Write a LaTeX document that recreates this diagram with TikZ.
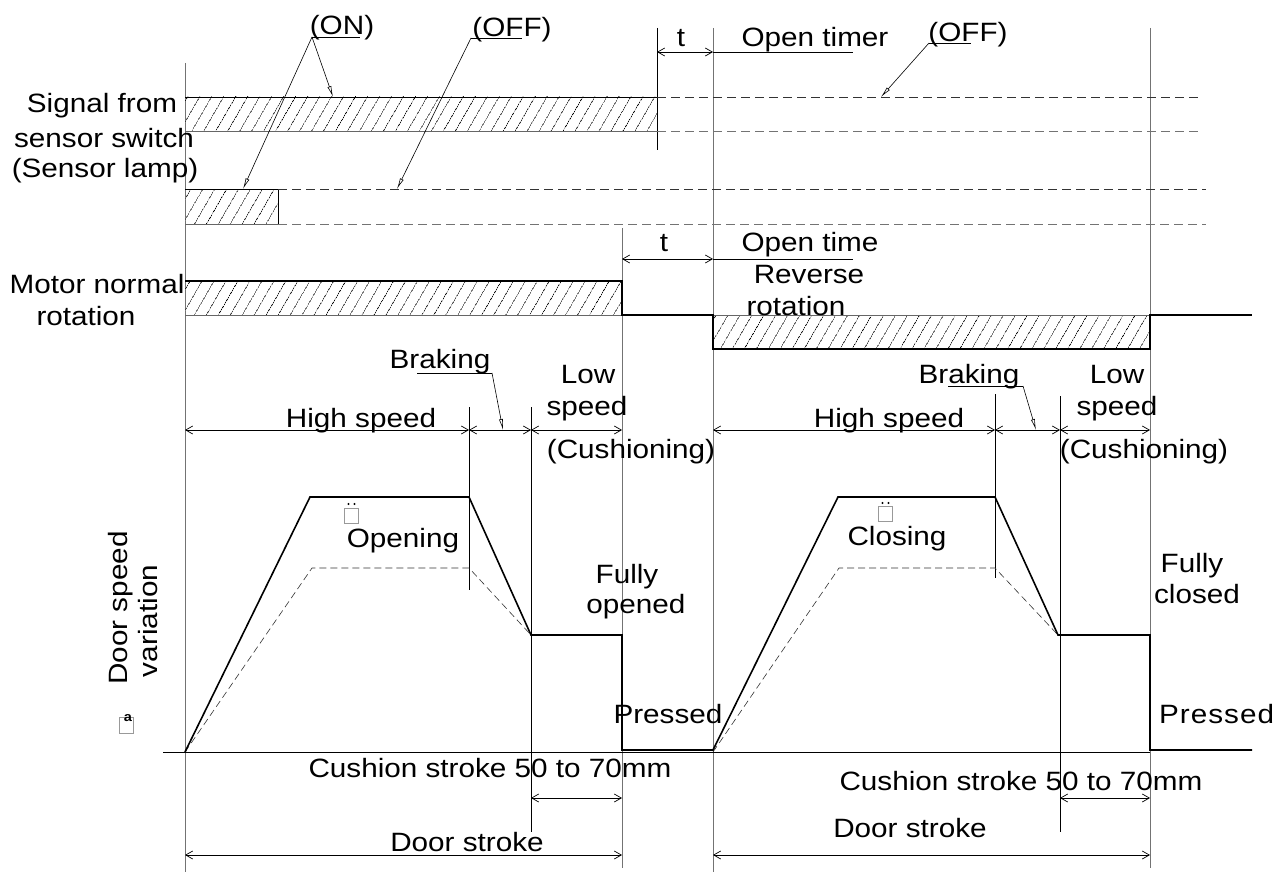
\documentclass[tikz,border=0pt]{standalone}
\usepackage{fontspec}
\setmainfont[FakeStretch=1.12]{Liberation Sans}
\usetikzlibrary{arrows.meta, patterns.meta}

\begin{document}
\begin{tikzpicture}[x=1pt, y=-1pt,
    lbl/.style={font=\fontsize{26.5}{30}\selectfont, inner sep=0pt, anchor=base},
    guide/.style={draw=black!55, line width=1pt},
    tick/.style={draw=black, line width=0.7pt},
    wave/.style={draw=black, line width=1.8pt},
    edgeline/.style={draw=black!60, line width=0.8pt},
    offline/.style={draw=black!80, line width=0.8pt, dash pattern=on 9pt off 5pt},
    hatch/.style={pattern={Lines[angle=60, distance=10.5pt, line width=0.85pt]}},
    dim/.style={draw=black, line width=0.7pt, {Straight Barb[length=7pt,width=8pt]}-{Straight Barb[length=7pt,width=8pt]}},
    leader/.style={draw=black, line width=0.6pt, -{Latex[open, length=11pt, width=4pt]}},
    profile/.style={draw=black!80, line width=0.6pt, dash pattern=on 7pt off 4pt},
    tofu/.style={draw=black!40, line width=0.6pt, minimum width=14pt, minimum height=15pt, inner sep=0pt}]
\useasboundingbox (0,0) rectangle (1277,872);

% vertical reference lines
\draw[guide] (185,63) -- (185,872);
\draw[guide] (713,28) -- (713,872);
\draw[guide] (622,228) -- (622,868);
\draw[guide] (1150,28) -- (1150,868);
\draw[tick] (657,28) -- (657,150);
\draw[tick] (469,407) -- (469,590);
\draw[tick] (531,407) -- (531,832);
\draw[tick] (995,394) -- (995,578);
\draw[tick] (1060,396) -- (1060,832);

% sensor switch signal
\fill[hatch] (185,97) rectangle (657,131);
\draw[tick] (185,97) -- (657,97);
\draw[edgeline] (185,131) -- (657,131);
\draw[offline] (657,97) -- (1202,97);
\draw[offline, draw=black!55] (657,131) -- (1202,131);

% sensor lamp
\fill[hatch] (185,189) rectangle (278,224);
\draw[tick] (185,189) -- (278,189) -- (278,224);
\draw[edgeline] (185,224) -- (278,224);
\draw[offline] (278,189) -- (1206,189);
\draw[offline, draw=black!55] (278,224) -- (1206,224);

% motor
\fill[hatch] (185,281) rectangle (622,315);
\fill[hatch] (713,315) rectangle (1150,349);
\draw[edgeline] (185,315) -- (622,315);
\draw[edgeline] (713,315) -- (1150,315);
\draw[wave] (185,281) -- (622,281) -- (622,315) -- (713,315) -- (713,349) -- (1150,349) -- (1150,315) -- (1252,315);

% timers
\draw[dim] (657,52) -- (713,52);
\draw[tick] (713,52) -- (853,52);
\draw[dim] (622,259) -- (713,259);
\draw[tick] (713,259) -- (853,259);

% speed ranges
\draw[dim] (185,430) -- (469,430);
\draw[dim] (469,430) -- (531,430);
\draw[dim] (531,430) -- (622,430);
\draw[dim] (713,430) -- (995,430);
\draw[dim] (995,430) -- (1060,430);
\draw[dim] (1060,430) -- (1150,430);

% strokes
\draw[dim] (531,798) -- (622,798);
\draw[dim] (1060,798) -- (1150,798);
\draw[dim] (185,855) -- (622,855);
\draw[dim] (713,855) -- (1150,855);

% door speed
\draw[tick] (163,752) -- (1150,752);
\draw[profile] (185,752) -- (312,568) -- (469,568) -- (531,635);
\draw[profile] (713,752) -- (839,568) -- (995,568) -- (1058,635);
\draw[wave, line width=1.6pt] (185,752) -- (310,497) -- (469,497) -- (531,635) -- (622,635) -- (622,750)
    -- (713,750) -- (838,497) -- (995,497) -- (1058,635) -- (1150,635) -- (1150,750) -- (1252,750);

% labels
\node[lbl] (sig1) at (102,113) {Signal from};
\node[lbl] (sig2) at (104,147) {sensor switch};
\node[lbl] (sig3) at (105,177) {(Sensor lamp)};
\node[lbl] (mot1) at (97,293) {Motor normal};
\node[lbl] (mot2) at (86,325) {rotation};
\node[lbl] (rev1) at (809,283) {Reverse};
\node[lbl] (rev2) at (796,315) {rotation};
\node[lbl] (t1) at (681,47) {t};
\node[lbl] (timer) at (815,47) {Open timer};
\node[lbl] (t2) at (664,251) {t};
\node[lbl] (otime) at (810,251) {Open time};

\node[lbl] (on) at (342,35) {(ON)};
\node[lbl] (off1) at (512,37) {(OFF)};
\node[lbl] (off2) at (968,42) {(OFF)};
\coordinate (onfoot) at (312,37);
\coordinate (off1foot) at (471,38);
\coordinate (off2foot) at (929,43);
\draw[tick] (onfoot) -- (360,37);
\draw[tick] (off1foot) -- (522,38);
\draw[tick] (off2foot) -- (971,43);
\draw[leader] (onfoot) -- (333,97);
\draw[leader] (onfoot) -- (243,189);
\draw[leader] (off1foot) -- (397,189);
\draw[leader] (off2foot) -- (881,97);

\node[lbl] (brk1) at (440,368) {Braking};
\node[lbl] (brk2) at (969,383) {Braking};
\coordinate (brk1foot) at (492,373);
\coordinate (brk2foot) at (1023,386);
\draw[tick] (417,373) -- (brk1foot);
\draw[tick] (948,386) -- (brk2foot);
\draw[leader] (brk1foot) -- (503,430);
\draw[leader] (brk2foot) -- (1036,430);

\node[lbl] (hs1) at (361,427) {High speed};
\node[lbl] (hs2) at (889,427) {High speed};
\node[lbl] (low1) at (588,383) {Low};
\node[lbl] (lsp1) at (587,415) {speed};
\node[lbl] (cush1) at (631,458) {(Cushioning)};
\node[lbl] (low2) at (1117,383) {Low};
\node[lbl] (lsp2) at (1117,415) {speed};
\node[lbl] (cush2) at (1144,458) {(Cushioning)};

\node[lbl] (opening) at (403,547) {Opening};
\node[lbl] (closing) at (897,545) {Closing};
\node[lbl] (fo1) at (627,583) {Fully};
\node[lbl] (fo2) at (636,613) {opened};
\node[lbl] (fc1) at (1192,572) {Fully};
\node[lbl] (fc2) at (1197,603) {closed};
\node[lbl] (pr1) at (668,723) {Pressed};
\node[lbl, anchor=base west] (pr2) at (1159,723) {P\kern1pt r\kern1pt e\kern1pt s\kern1pt s\kern1pt e\kern1pt d};
\node[lbl] (cs1) at (490,777) {Cushion stroke 50 to 70mm};
\node[lbl] (cs2) at (1021,790) {Cushion stroke 50 to 70mm};
\node[lbl] (ds1) at (467,851) {Door stroke};
\node[lbl] (ds2) at (910,837) {Door stroke};
\node[lbl, rotate=90] (dsv1) at (127,608) {Door speed};
\node[lbl, rotate=90] (dsv2) at (157,621) {variation};

% missing glyph boxes
\node[tofu] (tofuOpen) at (351.5,515.5) {};
\node[tofu] (tofuClose) at (885.5,514) {};
\fill (348.5,504) circle (1.1) (354.5,504) circle (1.1);
\fill (882.5,503) circle (1.1) (888.5,503) circle (1.1);
\node[tofu, minimum height=16pt] (tofuA) at (126.5,725) {};
\node[font=\bfseries\fontsize{13}{13}\selectfont, inner sep=0pt] (tofuAtext) at (128,718) {a};
\end{tikzpicture}
\end{document}
